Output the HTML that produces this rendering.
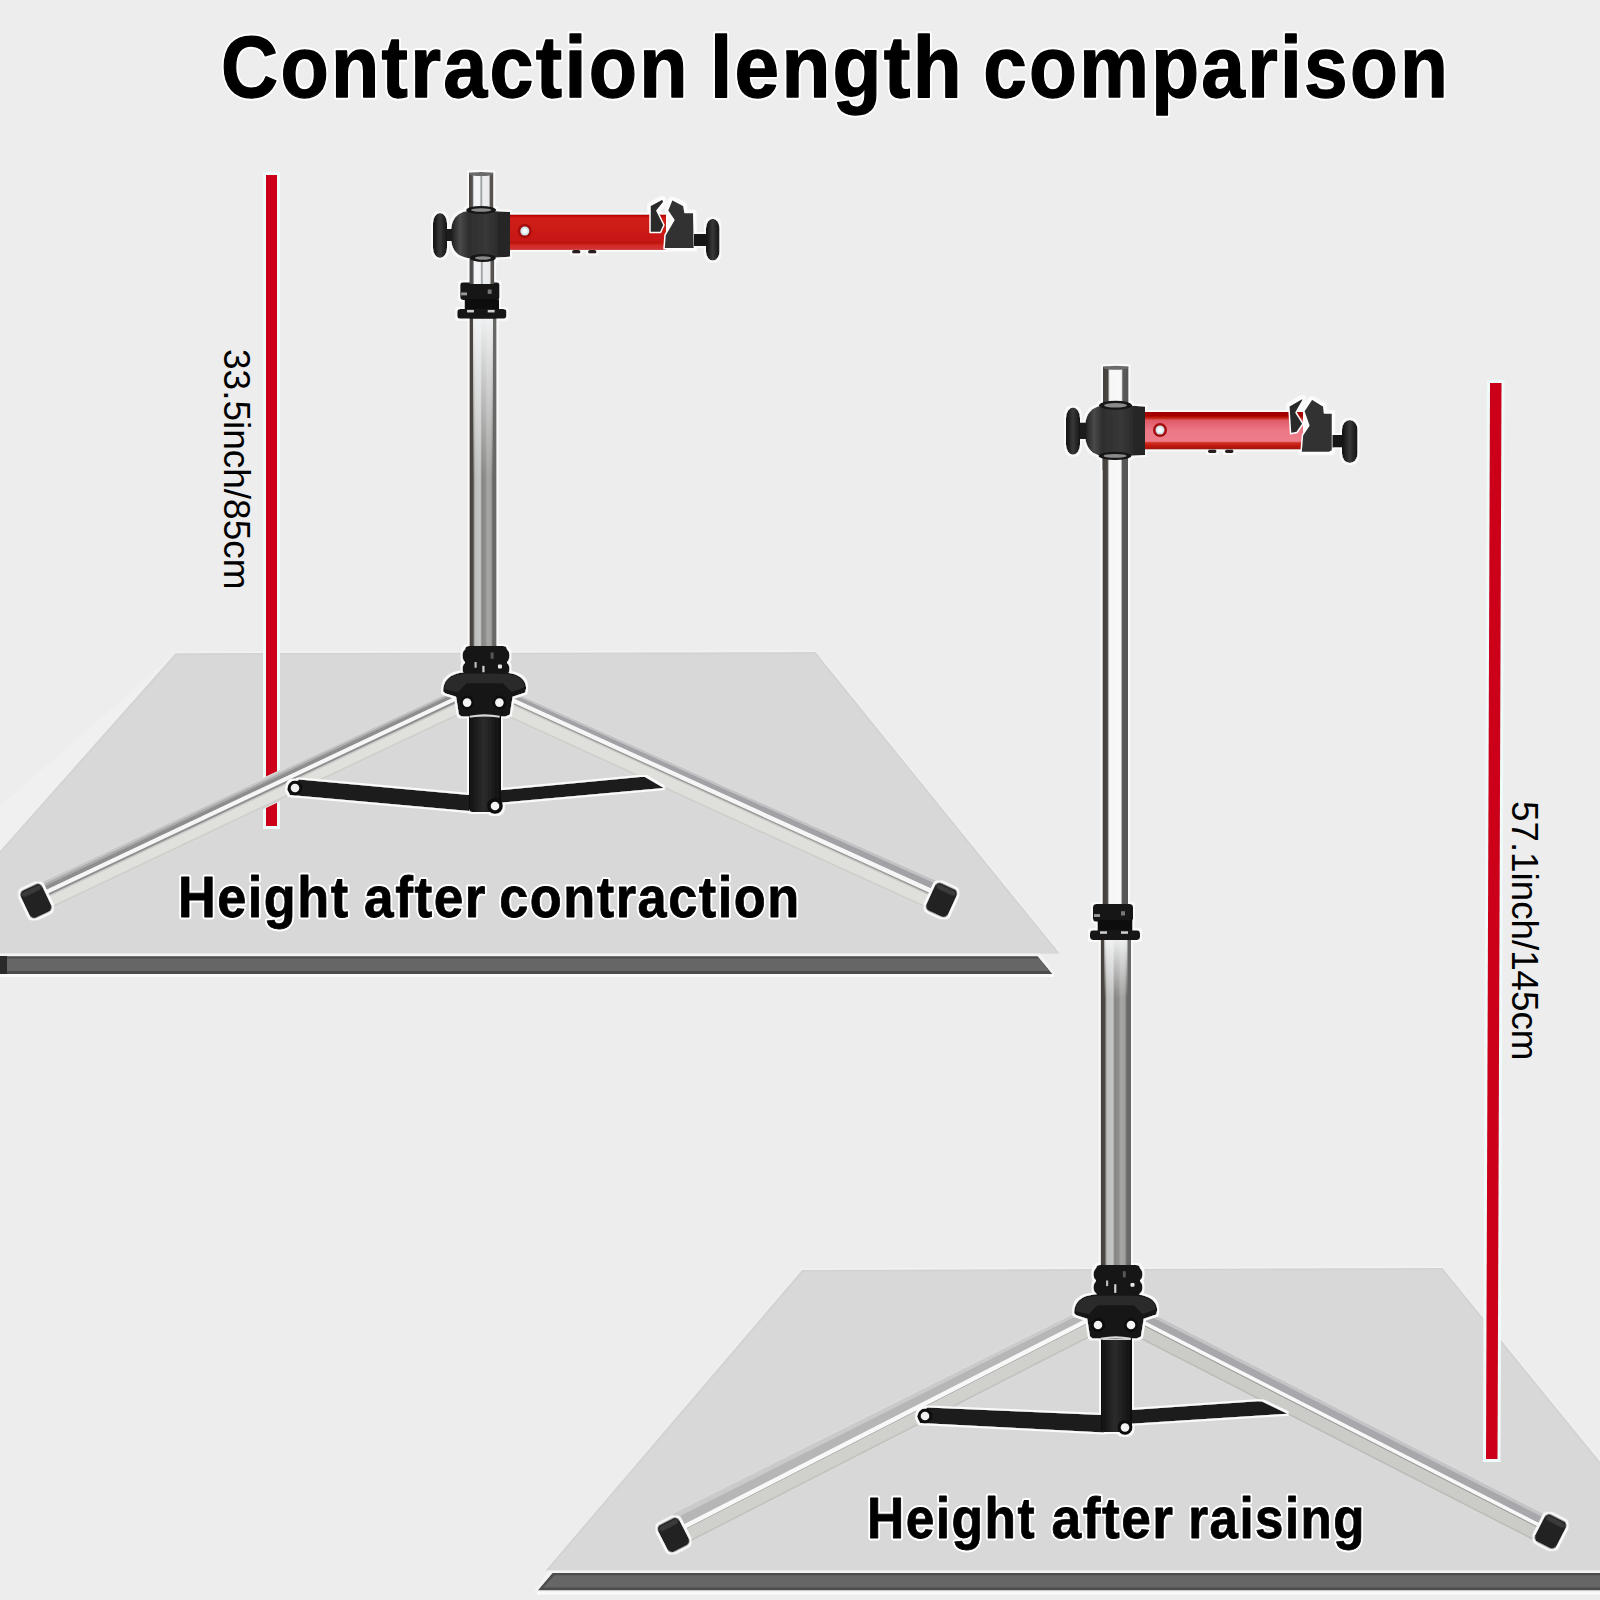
<!DOCTYPE html>
<html><head><meta charset="utf-8"><title>Contraction length comparison</title>
<style>html,body{margin:0;padding:0;width:1600px;height:1600px;overflow:hidden;background:#ededed}svg{display:block}</style>
</head><body>
<svg width="1600" height="1600" viewBox="0 0 1600 1600">
<defs>
<filter id="halo" x="-5%" y="-5%" width="110%" height="110%">
<feMorphology in="SourceAlpha" operator="dilate" radius="1.6" result="d"/>
<feFlood flood-color="#fafafa" result="f"/><feComposite in="f" in2="d" operator="in" result="h"/>
<feMerge><feMergeNode in="h"/><feMergeNode in="SourceGraphic"/></feMerge>
</filter>
<linearGradient id="pgW" x1="0" x2="1" y1="0" y2="0">
<stop offset="0" stop-color="#45413d"/><stop offset="0.19" stop-color="#4a4641"/><stop offset="0.26" stop-color="#f6f6f6"/><stop offset="0.72" stop-color="#f8f8f8"/><stop offset="0.78" stop-color="#5a5a5a"/><stop offset="1" stop-color="#555"/>
</linearGradient>
<linearGradient id="pgW2" x1="0" x2="1" y1="0" y2="0">
<stop offset="0" stop-color="#4a4541"/><stop offset="0.14" stop-color="#555"/><stop offset="0.2" stop-color="#f2f4f5"/><stop offset="0.44" stop-color="#f2f4f5"/><stop offset="0.5" stop-color="#8c9297"/><stop offset="0.57" stop-color="#eceeef"/><stop offset="0.82" stop-color="#e8eaec"/><stop offset="0.88" stop-color="#5a5550"/><stop offset="1" stop-color="#55504d"/>
</linearGradient>
<linearGradient id="pgG" x1="0" x2="1" y1="0" y2="0">
<stop offset="0" stop-color="#45403b"/><stop offset="0.13" stop-color="#4d4843"/><stop offset="0.2" stop-color="#bcbdbb"/><stop offset="0.4" stop-color="#c6c7c5"/><stop offset="0.46" stop-color="#858583"/><stop offset="0.6" stop-color="#90908e"/><stop offset="0.66" stop-color="#a6a6a4"/><stop offset="0.8" stop-color="#a0a09e"/><stop offset="0.86" stop-color="#6a6a68"/><stop offset="1" stop-color="#666"/>
</linearGradient>
<linearGradient id="fadeW" x1="0" x2="0" y1="0" y2="1"><stop offset="0" stop-color="#f4f5f6" stop-opacity="0.95"/><stop offset="1" stop-color="#f4f5f6" stop-opacity="0"/></linearGradient>
<linearGradient id="colg" x1="0" x2="1"><stop offset="0" stop-color="#101010"/><stop offset="0.45" stop-color="#2c2c2c"/><stop offset="1" stop-color="#0e0e0e"/></linearGradient>
<linearGradient id="armL" x1="0" x2="0" y1="0" y2="1"><stop offset="0" stop-color="#b50000"/><stop offset="0.06" stop-color="#c40808"/><stop offset="0.1" stop-color="#d01c16"/><stop offset="0.74" stop-color="#c81812"/><stop offset="0.76" stop-color="#bc160e"/><stop offset="0.83" stop-color="#c41a12"/><stop offset="0.86" stop-color="#d42828"/><stop offset="0.96" stop-color="#d03232"/><stop offset="1" stop-color="#d05050"/></linearGradient>
<linearGradient id="armR" x1="0" x2="0" y1="0" y2="1"><stop offset="0" stop-color="#a00000"/><stop offset="0.1" stop-color="#a80400"/><stop offset="0.16" stop-color="#c02010"/><stop offset="0.22" stop-color="#e05a68"/><stop offset="0.5" stop-color="#ec7886"/><stop offset="0.78" stop-color="#ee7c8a"/><stop offset="0.82" stop-color="#d03020"/><stop offset="0.9" stop-color="#c01810"/><stop offset="1" stop-color="#a01010"/></linearGradient>
<linearGradient id="ballg" x1="0" x2="1"><stop offset="0" stop-color="#1c1c1c"/><stop offset="0.15" stop-color="#4a4a4a"/><stop offset="0.3" stop-color="#2e2e2e"/><stop offset="0.6" stop-color="#383838"/><stop offset="1" stop-color="#1e1e1e"/></linearGradient>
<linearGradient id="knobg" x1="0" x2="1"><stop offset="0" stop-color="#111"/><stop offset="0.5" stop-color="#383838"/><stop offset="1" stop-color="#151515"/></linearGradient>
</defs>
<rect width="1600" height="1600" fill="#ededed"/>
<polygon points="174,654 0,806 0,852" fill="#f0f0f0"/>
<polygon points="175.5,651.5 815.5,650.3 1061.5,954 0,954 0,849" fill="#f1f1f1"/>
<polygon points="175.5,653.25 815.5,652.1 1059.75,953.5 0,953.5 0,851" fill="#d3d3d3"/>
<polygon points="177,655 814.5,653.8 1057.5,953.5 0,953.5 0,853.5" fill="#d8d8d8"/>
<rect x="0" y="974" width="1054" height="3" fill="#fafafa"/>
<polygon points="0,953.5 1040,953.5 1055,974 0,974" fill="#f4f4f4"/>
<polygon points="0,956.25 1037.6,956.25 1052.25,973.9 0,973.9" fill="#4c4c4c"/>
<polygon points="0,958.5 1039,958.5 1048.5,971 0,971" fill="#666"/>
<rect x="0" y="956" width="7" height="18" fill="#2a2a2a"/>
<polygon points="802,1268.2 1442.5,1266.2 1600,1459.5 1600,1571 544,1571" fill="#f1f1f1"/>
<polygon points="802,1270 1442.5,1268 1600,1461.6 1600,1570.4 545.5,1570.4" fill="#d3d3d3"/>
<polygon points="803.5,1271.8 1441.5,1269.8 1600,1464.5 1600,1570.4 548,1570.4" fill="#d8d8d8"/>
<rect x="537" y="1591.5" width="1063" height="3" fill="#fafafa"/>
<polygon points="549,1570.4 1600,1570.4 1600,1591.5 534,1591.5" fill="#f4f4f4"/>
<polygon points="552.6,1573 1600,1573 1600,1590.2 538,1590.2" fill="#4c4c4c"/>
<polygon points="554.5,1575.3 1600,1575.3 1600,1587.4 543,1587.4" fill="#666"/>
<rect x="263" y="172" width="17" height="657" fill="#effafa"/>
<rect x="266" y="175" width="11" height="651" fill="#cc0018"/>
<polygon points="1487,380 1504.5,380 1500.5,1462 1483,1462" fill="#effafa"/>
<polygon points="1490,383 1501.5,383 1497.5,1459 1486,1459" fill="#cc0018"/>
<text x="221.0" y="97" font-family="Liberation Sans" font-weight="bold" font-size="87" textLength="468.95" lengthAdjust="spacingAndGlyphs" letter-spacing="2.5" fill="#fff" stroke="#fff" stroke-width="5.3" stroke-linejoin="round">Contraction</text>
<text x="221.0" y="97" font-family="Liberation Sans" font-weight="bold" font-size="87" textLength="468.95" lengthAdjust="spacingAndGlyphs" letter-spacing="2.5" fill="#000" stroke="#000" stroke-width="1.3" stroke-linejoin="round">Contraction</text>
<text x="710.0" y="97" font-family="Liberation Sans" font-weight="bold" font-size="87" textLength="254.05" lengthAdjust="spacingAndGlyphs" letter-spacing="2.5" fill="#fff" stroke="#fff" stroke-width="5.3" stroke-linejoin="round">length</text>
<text x="710.0" y="97" font-family="Liberation Sans" font-weight="bold" font-size="87" textLength="254.05" lengthAdjust="spacingAndGlyphs" letter-spacing="2.5" fill="#000" stroke="#000" stroke-width="1.3" stroke-linejoin="round">length</text>
<text x="983.25" y="97" font-family="Liberation Sans" font-weight="bold" font-size="87" textLength="466.93" lengthAdjust="spacingAndGlyphs" letter-spacing="2.5" fill="#fff" stroke="#fff" stroke-width="5.3" stroke-linejoin="round">comparison</text>
<text x="983.25" y="97" font-family="Liberation Sans" font-weight="bold" font-size="87" textLength="466.93" lengthAdjust="spacingAndGlyphs" letter-spacing="2.5" fill="#000" stroke="#000" stroke-width="1.3" stroke-linejoin="round">comparison</text>
<text transform="translate(224,349) rotate(90)" font-family="Liberation Sans" font-size="37" textLength="240.5" lengthAdjust="spacingAndGlyphs" fill="#000">33.5inch/85cm</text>
<text transform="translate(1512,801) rotate(90)" font-family="Liberation Sans" font-size="37" textLength="259.5" lengthAdjust="spacingAndGlyphs" fill="#000">57.1inch/145cm</text>
<polygon points="36.0,883.4 485.0,674.4 485.0,704.4 36.0,916.9" fill="#dadada"/>
<polygon points="36.0,884.9 485.0,675.9 485.0,677.4 36.0,887.4" fill="#c6c6c6"/>
<polygon points="36.0,887.4 485.0,677.4 485.0,678.9 36.0,889.9" fill="#aaaaaa"/>
<polygon points="36.0,889.9 485.0,678.9 485.0,682.7 36.0,894.7" fill="#8e8e8e"/>
<polygon points="36.0,894.7 485.0,682.7 485.0,687.1 36.0,899.3" fill="#f6f6f6"/>
<polygon points="36.0,899.3 485.0,687.1 485.0,689.4 36.0,901.4" fill="#8f8f8f"/>
<polygon points="36.0,901.4 485.0,689.4 485.0,690.9 36.0,902.9" fill="#c8c8c6"/>
<polygon points="36.0,902.9 485.0,690.9 485.0,700.9 36.0,913.4" fill="#e0e0dc"/>
<polygon points="36.0,913.4 485.0,700.9 485.0,702.9 36.0,915.4" fill="#cfcfcb"/>
<polygon points="485.0,678.3 941.0,881.5 941.0,916.5 485.0,708.3" fill="#dadada"/>
<polygon points="485.0,679.8 941.0,883.0 941.0,886.0 485.0,681.8" fill="#c2c2c4"/>
<polygon points="485.0,681.8 941.0,886.0 941.0,893.1 485.0,685.6" fill="#a2a2a6"/>
<polygon points="485.0,685.6 941.0,893.1 941.0,898.1 485.0,690.0" fill="#f6f6f6"/>
<polygon points="485.0,690.0 941.0,898.1 941.0,899.7 485.0,691.6" fill="#9a9a98"/>
<polygon points="485.0,691.6 941.0,899.7 941.0,901.0 485.0,692.8" fill="#c8c8c6"/>
<polygon points="485.0,692.8 941.0,901.0 941.0,913.0 485.0,704.8" fill="#dfdfdb"/>
<polygon points="485.0,704.8 941.0,913.0 941.0,915.0 485.0,706.8" fill="#cfcfcb"/>
<g filter="url(#halo)">
<polygon points="287.0,789.0 299.0,779.4 469.0,795.0 469.0,811.0 290.0,795.0" fill="#1c1c1c"/>
<circle cx="295" cy="788" r="7.5" fill="#111"/><circle cx="295" cy="788" r="4.3" fill="#f0f0f0"/>
<polygon points="500.0,790.2 640.0,776.9 645.0,777.0 663.8,788.1 500.0,802.7" fill="#1c1c1c"/>
<g transform="translate(36,901) rotate(-25.3)"><rect x="-12.0" y="-15.5" width="24" height="31" rx="5" fill="#222"/><rect x="-10.0" y="-13.5" width="20" height="5" rx="2.5" fill="#3b3b3b"/></g>
<g transform="translate(941.5,900) rotate(24.5)"><rect x="-12.0" y="-15.5" width="24" height="31" rx="5" fill="#222"/><rect x="-10.0" y="-13.5" width="20" height="5" rx="2.5" fill="#3b3b3b"/></g>
<rect x="469" y="713" width="32" height="99" rx="3" fill="url(#colg)"/>
<rect x="470" y="714" width="30" height="3" rx="1.5" fill="#cfcfcf"/>
<circle cx="495" cy="806" r="8" fill="#111"/><circle cx="495" cy="806" r="4.3" fill="#f4f4f4"/>
<rect x="469.5" y="318" width="27.0" height="332" fill="url(#pgG)"/>
<rect x="473.0" y="318" width="20.0" height="160" fill="url(#fadeW)"/>
<rect x="465" y="646" width="42" height="32" rx="4" fill="#181818"/>
<ellipse cx="466" cy="655.6" rx="3.5" ry="6.4" fill="#151515"/>
<ellipse cx="506" cy="655.6" rx="3.5" ry="6.4" fill="#151515"/>
<ellipse cx="466" cy="669.04" rx="3.5" ry="6.4" fill="#151515"/>
<ellipse cx="506" cy="669.04" rx="3.5" ry="6.4" fill="#151515"/>
<rect x="474.5" y="662.0" width="2.2" height="5.76" fill="#b8b8b8"/>
<rect x="482.32" y="665.84" width="2.2" height="8.96" fill="#d0d0d0"/>
<rect x="497.96" y="664.56" width="4" height="3.84" rx="1" fill="#e8e8e8"/>
<rect x="490.6" y="652.4" width="3" height="6.4" fill="#555"/>
<path d="M443.1,691.3 C443.1,678.3 452.6,672.3 468.6,672.3 L500.6,672.3 C516.6,672.3 526.1,678.3 526.1,688.3 L525.1,692.6 L512.6,696.7 L509.8,714.6 L505.6,716.6 L461.6,716.6 L458.9,714.6 L456.1,696.7 L445.1,693.2 Z" fill="#161616"/>
<path d="M444.6,689.3 C444.6,678.3 453.6,673.8 468.6,673.8 L500.6,673.8 C515.6,673.8 524.6,678.3 524.6,687.3 L511.6,692.3 L502.6,683.3 L466.6,683.3 L457.6,692.3 Z" fill="#2a2a2a"/>
<circle cx="467.1" cy="702.6" r="7" fill="#0b0b0b"/><circle cx="467.1" cy="702.6" r="4.3" fill="#f4f4f4"/>
<circle cx="499.4" cy="702.6" r="7" fill="#0b0b0b"/><circle cx="499.4" cy="702.6" r="4.3" fill="#f4f4f4"/>
<path d="M469.6,715.8 Q484.6,712.8 499.6,715.8 L499.6,717.8 Q484.6,714.8 469.6,717.8 Z" fill="#d8d8d8"/>
<rect x="460.152" y="282.2" width="39.35999999999999" height="17.90949999999998" rx="3" fill="#141414"/>
<rect x="464.58" y="299.10949999999997" width="34.43999999999999" height="10.772000000000048" fill="#101010"/>
<rect x="457.2" y="308.8815" width="49.19999999999999" height="9.868499999999983" rx="3" fill="#151515"/>
<rect x="461.13599999999997" y="292.43399999999997" width="5.903999999999998" height="2.924000000000001" fill="#9a9a9a"/>
<rect x="487.704" y="289.51" width="3.935999999999999" height="4.386000000000001" fill="#777"/>
<rect x="467.03999999999996" y="309.8815" width="6.887999999999999" height="2.558500000000001" fill="#cfcfcf"/>
<rect x="487.704" y="309.8815" width="6.887999999999999" height="2.558500000000001" fill="#cfcfcf"/>
<rect x="469" y="172.5" width="24.30000000000001" height="39.5" fill="url(#pgW2)"/>
<ellipse cx="481.15" cy="174.0" rx="12.150000000000006" ry="2" fill="#6a6a6a"/>
<rect x="469.4" y="256" width="24.80000000000001" height="28" fill="url(#pgW2)"/>
<rect x="445" y="229" width="9" height="12" fill="#1e1e1e"/>
<rect x="433" y="213" width="14" height="45" rx="7.0" ry="9.9" fill="url(#knobg)"/>
<rect x="508" y="214.5" width="158" height="35.5" fill="url(#armL)"/>
<rect x="572" y="250" width="8.5" height="3.5" rx="1.5" fill="#2a1a1a"/>
<rect x="588" y="250" width="8.5" height="3.5" rx="1.5" fill="#2a1a1a"/>
<path d="M510,212 L477.55,210 C453,210 451,222.2 451,234.4 C451,246.60000000000002 453,258.8 477.55,258.8 L510,256.8 Z" fill="url(#ballg)"/>
<rect x="498" y="213" width="12" height="42.80000000000001" fill="#262626"/>
<ellipse cx="481.15" cy="210.0" rx="15.150000000000006" ry="4.0" fill="#161616"/>
<ellipse cx="481.15" cy="210.0" rx="10.150000000000006" ry="1.7999999999999998" fill="#8a8a8a"/>
<ellipse cx="483.0" cy="258.0" rx="13.0" ry="4.0" fill="#161616"/>
<ellipse cx="483.0" cy="258.0" rx="8.0" ry="1.7999999999999998" fill="#8a8a8a"/>
<circle cx="524.8" cy="231" r="7" fill="#a40d0d"/><circle cx="524.8" cy="231" r="4.5" fill="#cfe6ee"/><circle cx="524.8" cy="231" r="2.5" fill="#fff"/>
<polygon points="650.0,205.6 662.5,198.8 664.0,201.9 656.9,210.6 664.0,225.0 660.6,232.5 650.0,232.5" fill="#2c2c2c" stroke="#fff" stroke-width="1.5" stroke-linejoin="round"/>
<polygon points="667.5,210.6 671.9,199.4 683.8,205.6 685.0,212.5 693.8,212.5 694.4,248.8 664.0,248.8 665.0,235.0 673.8,220.0" fill="#333" stroke="#fff" stroke-width="1.5" stroke-linejoin="round"/>
<rect x="694" y="234" width="14" height="12" fill="#151515"/>
<rect x="706" y="218.75" width="13.5" height="41.85000000000002" rx="6.75" ry="9.207000000000004" fill="url(#knobg)"/>
</g>
<polygon points="673.0,1512.5 1116.0,1291.4 1116.0,1325.4 673.0,1552.0" fill="#dadada"/>
<polygon points="673.0,1514.0 1116.0,1292.9 1116.0,1295.9 673.0,1519.5" fill="#cacaca"/>
<polygon points="673.0,1519.5 1116.0,1295.9 1116.0,1303.4 673.0,1530.0" fill="#b6b6b6"/>
<polygon points="673.0,1530.0 1116.0,1303.4 1116.0,1308.4 673.0,1535.0" fill="#f8f8f8"/>
<polygon points="673.0,1535.0 1116.0,1308.4 1116.0,1309.4 673.0,1536.0" fill="#a8a8a6"/>
<polygon points="673.0,1536.0 1116.0,1309.4 1116.0,1321.9 673.0,1548.5" fill="#d0d0cc"/>
<polygon points="673.0,1548.5 1116.0,1321.9 1116.0,1323.9 673.0,1550.5" fill="#c2c2be"/>
<polygon points="1116.0,1293.6 1550.0,1515.8 1550.0,1550.3 1116.0,1328.1" fill="#dadada"/>
<polygon points="1116.0,1295.1 1550.0,1517.3 1550.0,1520.8 1116.0,1298.6" fill="#c4c4c6"/>
<polygon points="1116.0,1298.6 1550.0,1520.8 1550.0,1528.8 1116.0,1306.6" fill="#a8a8ac"/>
<polygon points="1116.0,1306.6 1550.0,1528.8 1550.0,1532.8 1116.0,1310.6" fill="#f8f8f8"/>
<polygon points="1116.0,1310.6 1550.0,1532.8 1550.0,1534.3 1116.0,1312.1" fill="#a0a09e"/>
<polygon points="1116.0,1312.1 1550.0,1534.3 1550.0,1546.8 1116.0,1324.6" fill="#cbcbc8"/>
<polygon points="1116.0,1324.6 1550.0,1546.8 1550.0,1548.8 1116.0,1326.6" fill="#bcbcb9"/>
<g filter="url(#halo)">
<polygon points="917.0,1416.0 927.5,1407.5 1102.0,1415.0 1104.0,1432.5 920.0,1423.0" fill="#1c1c1c"/>
<circle cx="925" cy="1416" r="7.5" fill="#111"/><circle cx="925" cy="1416" r="4.3" fill="#f0f0f0"/>
<polygon points="1131.0,1410.0 1257.5,1401.2 1262.0,1401.5 1287.5,1413.8 1131.0,1423.8" fill="#1c1c1c"/>
<g transform="translate(673.5,1535) rotate(-27.1)"><rect x="-12.0" y="-15.5" width="24" height="31" rx="5" fill="#222"/><rect x="-10.0" y="-13.5" width="20" height="5" rx="2.5" fill="#3b3b3b"/></g>
<g transform="translate(1550.5,1531.5) rotate(27.1)"><rect x="-12.0" y="-15.5" width="24" height="31" rx="5" fill="#222"/><rect x="-10.0" y="-13.5" width="20" height="5" rx="2.5" fill="#3b3b3b"/></g>
<rect x="1101" y="1336" width="31" height="96" rx="3" fill="url(#colg)"/>
<rect x="1102" y="1337" width="29" height="3" rx="1.5" fill="#cfcfcf"/>
<circle cx="1125" cy="1427.5" r="7.5" fill="#111"/><circle cx="1125" cy="1427.5" r="4.3" fill="#f4f4f4"/>
<rect x="1102.5" y="455" width="25.5" height="451" fill="url(#pgW)"/>
<rect x="1100.75" y="938" width="30.25" height="330" fill="url(#pgG)"/>
<rect x="1104.25" y="938" width="23.25" height="60" fill="url(#fadeW)"/>
<rect x="1093.0" y="904" width="40.0" height="17.639999999999986" rx="3" fill="#141414"/>
<rect x="1097.5" y="920.64" width="35.0" height="10.639999999999986" fill="#101010"/>
<rect x="1090" y="930.28" width="50" height="9.720000000000027" rx="3" fill="#151515"/>
<rect x="1094.0" y="914.08" width="6.0" height="2.88" fill="#9a9a9a"/>
<rect x="1121.0" y="911.2" width="4.0" height="4.32" fill="#777"/>
<rect x="1100.0" y="931.28" width="7.000000000000001" height="2.5200000000000005" fill="#cfcfcf"/>
<rect x="1121.0" y="931.28" width="7.000000000000001" height="2.5200000000000005" fill="#cfcfcf"/>
<rect x="1096" y="1265" width="44" height="31" rx="4" fill="#181818"/>
<ellipse cx="1097" cy="1274.3" rx="3.5" ry="6.2" fill="#151515"/>
<ellipse cx="1139" cy="1274.3" rx="3.5" ry="6.2" fill="#151515"/>
<ellipse cx="1097" cy="1287.32" rx="3.5" ry="6.2" fill="#151515"/>
<ellipse cx="1139" cy="1287.32" rx="3.5" ry="6.2" fill="#151515"/>
<rect x="1106.0" y="1280.5" width="2.2" height="5.58" fill="#b8b8b8"/>
<rect x="1114.16" y="1284.22" width="2.2" height="8.680000000000001" fill="#d0d0d0"/>
<rect x="1130.48" y="1282.98" width="4" height="3.7199999999999998" rx="1" fill="#e8e8e8"/>
<rect x="1122.8" y="1271.2" width="3" height="6.2" fill="#555"/>
<path d="M1074.2,1313.3 C1074.2,1300.3 1083.7,1294.3 1099.7,1294.3 L1131.7,1294.3 C1147.7,1294.3 1157.2,1300.3 1157.2,1310.3 L1156.2,1314.6 L1143.7,1318.7 L1140.9,1336.6 L1136.7,1338.6 L1092.7,1338.6 L1090.0,1336.6 L1087.2,1318.7 L1076.2,1315.2 Z" fill="#161616"/>
<path d="M1075.7,1311.3 C1075.7,1300.3 1084.7,1295.8 1099.7,1295.8 L1131.7,1295.8 C1146.7,1295.8 1155.7,1300.3 1155.7,1309.3 L1142.7,1314.3 L1133.7,1305.3 L1097.7,1305.3 L1088.7,1314.3 Z" fill="#2a2a2a"/>
<circle cx="1098" cy="1325" r="7" fill="#0b0b0b"/><circle cx="1098" cy="1325" r="4.3" fill="#f4f4f4"/>
<circle cx="1131" cy="1325" r="7" fill="#0b0b0b"/><circle cx="1131" cy="1325" r="4.3" fill="#f4f4f4"/>
<path d="M1100.7,1337.8 Q1115.7,1334.8 1130.7,1337.8 L1130.7,1339.8 Q1115.7,1336.8 1100.7,1339.8 Z" fill="#d8d8d8"/>
<rect x="1103" y="366.3" width="25.5" height="39.69999999999999" fill="url(#pgW)"/>
<ellipse cx="1115.75" cy="367.8" rx="12.75" ry="2" fill="#6a6a6a"/>
<rect x="1102.5" y="455" width="25.5" height="15" fill="url(#pgW)"/>
<rect x="1078" y="422.5" width="9" height="16.5" fill="#1e1e1e"/>
<rect x="1066" y="407.5" width="14" height="47.30000000000001" rx="7.0" ry="10.406000000000002" fill="url(#knobg)"/>
<rect x="1143" y="412" width="160" height="37.5" fill="url(#armR)"/>
<rect x="1208" y="449.5" width="8.5" height="3.5" rx="1.5" fill="#2a1a1a"/>
<rect x="1225" y="449.5" width="8.5" height="3.5" rx="1.5" fill="#2a1a1a"/>
<path d="M1145,406.5 L1112.0,404.5 C1087,404.5 1085,417.625 1085,430.75 C1085,443.875 1087,457 1112.0,457 L1145,455 Z" fill="url(#ballg)"/>
<rect x="1133" y="407.5" width="12" height="46.5" fill="#262626"/>
<ellipse cx="1115.5" cy="405.3" rx="16.5" ry="4.5" fill="#161616"/>
<ellipse cx="1115.5" cy="405.3" rx="11.5" ry="2.3" fill="#8a8a8a"/>
<ellipse cx="1115.0" cy="455.9" rx="16.5" ry="4.099999999999994" fill="#161616"/>
<ellipse cx="1115.0" cy="455.9" rx="11.5" ry="1.8999999999999941" fill="#8a8a8a"/>
<circle cx="1160" cy="430" r="7" fill="#a40d0d"/><circle cx="1160" cy="430" r="4.5" fill="#cfe6ee"/><circle cx="1160" cy="430" r="2.5" fill="#fff"/>
<polygon points="1288.8,406.2 1302.5,398.0 1303.1,400.0 1296.0,412.5 1303.0,423.8 1297.0,432.5 1290.6,433.8" fill="#2c2c2c" stroke="#fff" stroke-width="1.5" stroke-linejoin="round"/>
<polygon points="1303.8,411.2 1311.9,398.8 1323.8,406.2 1324.4,413.0 1332.5,413.0 1332.5,450.6 1329.4,452.5 1301.0,452.5 1302.5,435.0 1308.8,425.6" fill="#333" stroke="#fff" stroke-width="1.5" stroke-linejoin="round"/>
<rect x="1332.5" y="435" width="11.5" height="12.5" fill="#151515"/>
<rect x="1342" y="420" width="15.5" height="43" rx="7.75" ry="9.46" fill="url(#knobg)"/>
</g>
<text x="178.0" y="917" font-family="Liberation Sans" font-weight="bold" font-size="57.5" textLength="171.64" lengthAdjust="spacingAndGlyphs" letter-spacing="1.65" fill="#fff" stroke="#fff" stroke-width="4.8" stroke-linejoin="round">Height</text>
<text x="178.0" y="917" font-family="Liberation Sans" font-weight="bold" font-size="57.5" textLength="171.64" lengthAdjust="spacingAndGlyphs" letter-spacing="1.65" fill="#000" stroke="#000" stroke-width="0.8" stroke-linejoin="round">Height</text>
<text x="364.0" y="917" font-family="Liberation Sans" font-weight="bold" font-size="57.5" textLength="123.08" lengthAdjust="spacingAndGlyphs" letter-spacing="1.65" fill="#fff" stroke="#fff" stroke-width="4.8" stroke-linejoin="round">after</text>
<text x="364.0" y="917" font-family="Liberation Sans" font-weight="bold" font-size="57.5" textLength="123.08" lengthAdjust="spacingAndGlyphs" letter-spacing="1.65" fill="#000" stroke="#000" stroke-width="0.8" stroke-linejoin="round">after</text>
<text x="499.25" y="917" font-family="Liberation Sans" font-weight="bold" font-size="57.5" textLength="301.36" lengthAdjust="spacingAndGlyphs" letter-spacing="1.65" fill="#fff" stroke="#fff" stroke-width="4.8" stroke-linejoin="round">contraction</text>
<text x="499.25" y="917" font-family="Liberation Sans" font-weight="bold" font-size="57.5" textLength="301.36" lengthAdjust="spacingAndGlyphs" letter-spacing="1.65" fill="#000" stroke="#000" stroke-width="0.8" stroke-linejoin="round">contraction</text>
<text x="867.0" y="1538" font-family="Liberation Sans" font-weight="bold" font-size="57" textLength="169.14" lengthAdjust="spacingAndGlyphs" letter-spacing="1.64" fill="#fff" stroke="#fff" stroke-width="4.8" stroke-linejoin="round">Height</text>
<text x="867.0" y="1538" font-family="Liberation Sans" font-weight="bold" font-size="57" textLength="169.14" lengthAdjust="spacingAndGlyphs" letter-spacing="1.64" fill="#000" stroke="#000" stroke-width="0.8" stroke-linejoin="round">Height</text>
<text x="1051.5" y="1538" font-family="Liberation Sans" font-weight="bold" font-size="57" textLength="123.08" lengthAdjust="spacingAndGlyphs" letter-spacing="1.64" fill="#fff" stroke="#fff" stroke-width="4.8" stroke-linejoin="round">after</text>
<text x="1051.5" y="1538" font-family="Liberation Sans" font-weight="bold" font-size="57" textLength="123.08" lengthAdjust="spacingAndGlyphs" letter-spacing="1.64" fill="#000" stroke="#000" stroke-width="0.8" stroke-linejoin="round">after</text>
<text x="1188.25" y="1538" font-family="Liberation Sans" font-weight="bold" font-size="57" textLength="177.56" lengthAdjust="spacingAndGlyphs" letter-spacing="1.64" fill="#fff" stroke="#fff" stroke-width="4.8" stroke-linejoin="round">raising</text>
<text x="1188.25" y="1538" font-family="Liberation Sans" font-weight="bold" font-size="57" textLength="177.56" lengthAdjust="spacingAndGlyphs" letter-spacing="1.64" fill="#000" stroke="#000" stroke-width="0.8" stroke-linejoin="round">raising</text>
</svg>
</body></html>
